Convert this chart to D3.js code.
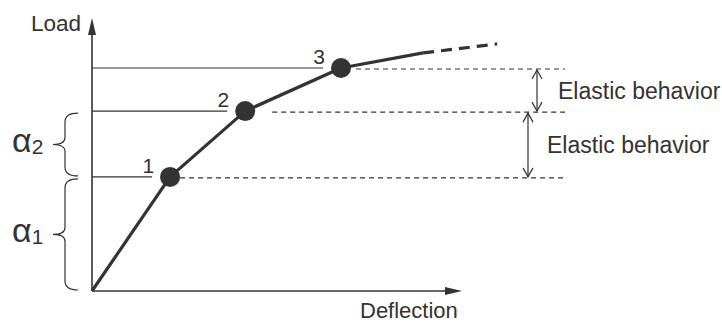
<!DOCTYPE html>
<html>
<head>
<meta charset="utf-8">
<script src="https://cdn.jsdelivr.net/npm/d3@7"></script>
<style>
  html, body { margin: 0; padding: 0; background: #fff; }
  svg { display: block; }
  text { font-family: "Liberation Sans", Arial, Helvetica, sans-serif; fill: #333; }
</style>
</head>
<body>
<svg id="chart" width="722" height="324"></svg>
<script>
// Load–deflection response with three yield points
const deflection = [0, 21.1, 41.4, 67.3, 89.5];
const load       = [0, 41.8, 65.9, 81.7, 87.2];
// beyond the last measured point the curve is extrapolated
const extDeflection = [89.5, 109.5];
const extLoad       = [87.2, 90.5];
// yield points (indices into the arrays above) and their labels
const yieldIndex  = [1, 2, 3];
const yieldLabels = ["1", "2", "3"];
// stiffness ranges between load levels
const braceRanges = [[0, 41.8], [41.8, 65.9]];
const braceLabels = ["1", "2"];          // subscripts of α
// elastic ranges between consecutive yield loads
const elasticRanges = [[65.9, 81.7], [41.8, 65.9]];
const elasticLabels = ["Elastic behavior", "Elastic behavior"];
const axisLabels = { x: "Deflection", y: "Load" };

const ink = "#333";
const svg = d3.select("#chart");

const x = d3.scaleLinear().domain([0, 100]).range([92, 462]);
const y = d3.scaleLinear().domain([0, 100]).range([291, 18]);

// axes with filled arrow heads
svg.append("line").attr("x1", x(0)).attr("y1", y(0)).attr("x2", x(0)).attr("y2", y(100) + 10)
  .attr("stroke", ink).attr("stroke-width", 1.6);
svg.append("path")
  .attr("d", `M${x(0)},${y(100)} L${x(0) - 4},${y(100) + 17} L${x(0) + 4},${y(100) + 17} Z`)
  .attr("fill", ink);
svg.append("line").attr("x1", x(0)).attr("y1", y(0)).attr("x2", x(100) - 10).attr("y2", y(0))
  .attr("stroke", ink).attr("stroke-width", 1.6);
svg.append("path")
  .attr("d", `M${x(100)},${y(0)} L${x(100) - 17},${y(0) - 4} L${x(100) - 17},${y(0) + 4} Z`)
  .attr("fill", ink);

svg.append("text").attr("x", 31).attr("y", 31).attr("font-size", 22.5).text(axisLabels.y);
svg.append("text").attr("x", 360).attr("y", 318).attr("font-size", 22).text(axisLabels.x);

// reference lines at each yield load: solid to the axis, dashed to the right
const dashGap = [10, 27, 15];
yieldIndex.forEach((k, i) => {
  const px = x(deflection[k]), py = y(load[k]);
  svg.append("line").attr("x1", x(0)).attr("x2", px - 18).attr("y1", py).attr("y2", py)
    .attr("stroke", ink).attr("stroke-width", 1.1);
  svg.append("line").attr("x1", px + dashGap[i]).attr("x2", 565).attr("y1", py + 1).attr("y2", py + 1)
    .attr("stroke", ink).attr("stroke-width", 1.1).attr("stroke-dasharray", "5,4");
  svg.append("text").attr("x", px - 16).attr("y", py - 4).attr("text-anchor", "end")
    .attr("font-size", 21).text(yieldLabels[i]);
});

// measured curve
const line = d3.line().x(d => x(d[0])).y(d => y(d[1]));
svg.append("path")
  .datum(deflection.map((d, i) => [d, load[i]]))
  .attr("d", line).attr("fill", "none").attr("stroke", ink)
  .attr("stroke-width", 3.2).attr("stroke-linejoin", "round");
svg.append("path")
  .datum(extDeflection.map((d, i) => [d, extLoad[i]]))
  .attr("d", line).attr("fill", "none").attr("stroke", ink)
  .attr("stroke-width", 3.2).attr("stroke-dasharray", "11,7");

// yield points
svg.selectAll("circle.yield").data(yieldIndex).join("circle")
  .attr("class", "yield")
  .attr("cx", k => x(deflection[k])).attr("cy", k => y(load[k])).attr("r", 10)
  .attr("fill", ink);

// braces for the stiffness ranges α1, α2
function brace(y0, y1) {
  const xr = 78, xv = 65, xt = 53, ym = (y0 + y1) / 2;
  return `M${xr},${y0} Q${xv},${y0} ${xv},${y0 + 9} L${xv},${ym - 7} Q${xv},${ym} ${xt},${ym}` +
         ` Q${xv},${ym} ${xv},${ym + 7} L${xv},${y1 - 9} Q${xv},${y1} ${xr},${y1}`;
}
braceRanges.forEach((r, i) => {
  const y0 = y(r[1]) + 2, y1 = y(r[0]) - 1;
  svg.append("path").attr("d", brace(y0, y1)).attr("fill", "none")
    .attr("stroke", ink).attr("stroke-width", 1.2);
  const t = svg.append("text").attr("x", 12).attr("y", (y0 + y1) / 2 + 8)
    .attr("fill", ink).style("fill", ink);
  t.append("tspan").attr("font-size", 34).text("α");
  t.append("tspan").attr("dy", 2).attr("font-size", 21).text(braceLabels[i]);
});

// double arrows marking elastic ranges
const arrowX = [537, 528];
const textX = [558, 547];
elasticRanges.forEach((r, i) => {
  const ax = arrowX[i], ya = y(r[1]) + 2, yb = y(r[0]);
  const g = svg.append("g").attr("stroke", ink).attr("stroke-width", 1.2).attr("fill", "none");
  g.append("line").attr("x1", ax).attr("x2", ax).attr("y1", ya).attr("y2", yb);
  g.append("path").attr("d", `M${ax - 5},${ya + 9} L${ax},${ya} L${ax + 5},${ya + 9}`);
  g.append("path").attr("d", `M${ax - 5},${yb - 9} L${ax},${yb} L${ax + 5},${yb - 9}`);
  svg.append("text").attr("x", textX[i]).attr("y", (ya + yb) / 2 + 8).attr("font-size", 23)
    .text(elasticLabels[i]);
});
</script>
</body>
</html>
